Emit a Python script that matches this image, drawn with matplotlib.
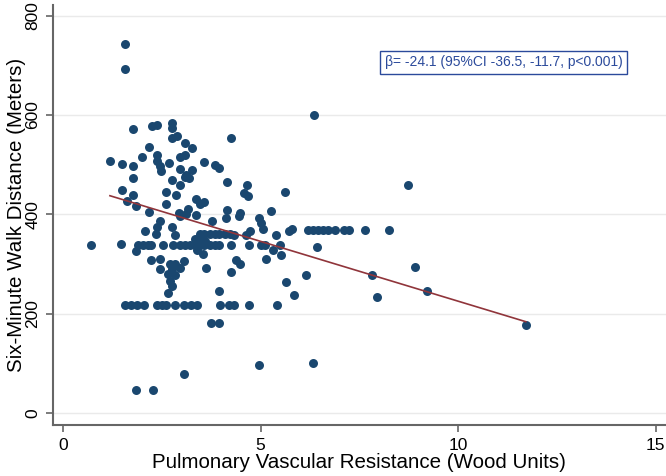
import numpy as np
import matplotlib
matplotlib.use("Agg")
from matplotlib import pyplot as plt

# pulmonary vascular resistance (Wood units) vs six-minute walk distance (m)
pvr = [
    1.57, 1.57,
    1.78, 2.26, 2.39, 2.76, 2.76, 2.77, 2.89, 4.26, 6.34,
    2.18, 3.08, 3.27, 1.99, 2.37, 2.95, 3.08,
    1.19, 1.49, 1.78, 2.39, 2.45, 2.68, 3.56, 3.86, 3.96, 2.95, 3.27, 2.47, 3.12,
    1.78, 2.77, 3.08, 3.19, 2.95, 4.16, 4.65, 4.57, 4.68, 5.63, 8.72,
    1.49, 1.78, 1.61, 2.60, 2.87, 2.60, 3.36, 3.57, 3.46,
    1.86, 2.18, 2.94, 3.16, 4.16, 4.47, 5.27,
    2.95, 3.11, 3.36, 4.13, 4.45, 4.95, 5.02, 2.45, 3.77,
    2.38, 2.77, 2.07, 2.35, 2.83, 4.74, 5.06, 5.40, 5.73, 5.80,
    6.19, 6.32, 6.45, 6.57, 6.70, 6.89, 7.10, 7.23, 7.64, 8.24,
    3.46, 3.58, 3.71, 3.84, 3.96, 4.09, 4.22, 4.34, 4.64,
    3.33, 3.50, 3.40, 3.60,
    0.72, 1.48, 1.90, 2.03, 2.15, 2.24, 2.53, 2.79, 2.95, 3.08, 3.21, 3.33,
    3.46, 3.58, 3.71, 3.84, 3.96, 4.26, 4.72, 5.02, 5.10, 5.48,
    1.86, 3.38, 3.54, 5.31, 5.52, 6.42, 5.13,
    2.24, 2.45, 2.70, 2.83, 3.06, 4.39, 4.47,
    2.45, 2.75, 2.95, 2.66, 2.83, 3.63, 4.26, 6.15, 7.82, 8.91,
    2.70, 2.75, 2.66, 3.96, 5.65, 5.84, 7.95, 9.21,
    1.58, 1.72, 1.88, 2.04, 2.37, 2.50, 2.62, 2.83, 3.07, 3.25, 3.38, 3.98,
    4.20, 4.33, 4.72, 5.42,
    3.75, 3.96, 1.86, 2.27, 3.06, 4.95, 6.32, 11.71,
]
walk = [
    744, 692,
    572, 578, 580, 584, 574, 554, 557, 553, 601,
    535, 544, 533, 516, 519, 515, 520,
    507, 502, 498, 508, 497, 503, 505, 500, 494, 492, 490, 487, 480,
    474, 470, 476, 474, 459, 466, 460, 443, 438, 445, 459,
    450, 439, 426, 445, 439, 420, 432, 425, 421,
    416, 405, 403, 410, 408, 403, 406,
    396, 400, 398, 393, 396, 392, 383, 386, 386,
    374, 374, 367, 361, 358, 367, 370, 358, 366, 370,
    369, 369, 369, 369, 369, 369, 369, 369, 369, 369,
    360, 360, 360, 360, 360, 360, 360, 358, 359,
    350, 352, 346, 347,
    339, 341, 339, 339, 339, 339, 339, 339, 339, 339, 339, 339,
    339, 339, 339, 339, 339, 339, 339, 339, 339, 339,
    327, 329, 320, 329, 319, 334, 311,
    309, 310, 300, 300, 307, 309, 301,
    291, 291, 292, 281, 279, 293, 284, 279, 279, 294,
    265, 255, 241, 245, 263, 237, 233, 245,
    218, 218, 218, 218, 218, 218, 218, 218, 218, 218, 218, 218,
    218, 218, 218, 217,
    182, 182, 47, 47, 79, 96, 100, 178,
]

# fitted line
beta = -24.1
intercept = 466.3
fit_x = [1.19, 11.71]
note = "\u03b2= -24.1 (95%CI -36.5, -11.7, p<0.001)"

plt.rcParams['font.family'] = ['Liberation Sans', 'DejaVu Sans']

fig = plt.figure(figsize=(6.66, 4.76), dpi=100)
ax = fig.add_axes([0.0796, 0.107, 0.92, 0.883])

ax.scatter(pvr, walk, s=42, color="#1a476f", linewidths=0, zorder=3)
fx = np.array(fit_x)
ax.plot(fx, intercept + beta * fx, color="#90353b", lw=1.2, zorder=4)

ax.set_xlim(-0.25, 15.25)
ax.set_ylim(-24, 822)
ax.set_xticks([0, 5, 10, 15])
ax.set_yticks([0, 200, 400, 600, 800])
ax.grid(axis='y', color="#eaeaea", lw=1)
ax.set_axisbelow(True)

for s in ['top', 'right']:
    ax.spines[s].set_visible(False)
for s in ['left', 'bottom']:
    ax.spines[s].set_color("#666666")
    ax.spines[s].set_linewidth(1.5)

ax.tick_params(axis='both', labelsize=12.5, length=5, color="#666666", width=1.2)
ax.tick_params(axis='x', pad=4)
ax.tick_params(axis='y', pad=4)
plt.setp(ax.get_yticklabels(), rotation=90, va='center')

ax.set_xlabel("Pulmonary Vascular Resistance (Wood Units)", fontsize=14.8, labelpad=0)
ax.set_ylabel("Six-Minute Walk Distance (Meters)", fontsize=14.8, labelpad=0)

ax.text(11.15, 706, note, fontsize=10, color="#2b4a9b", ha='center', va='center',
        bbox=dict(boxstyle='square,pad=0.35', fc='white', ec="#2b4a9b", lw=1))

fig.savefig("out.png", dpi=100)
